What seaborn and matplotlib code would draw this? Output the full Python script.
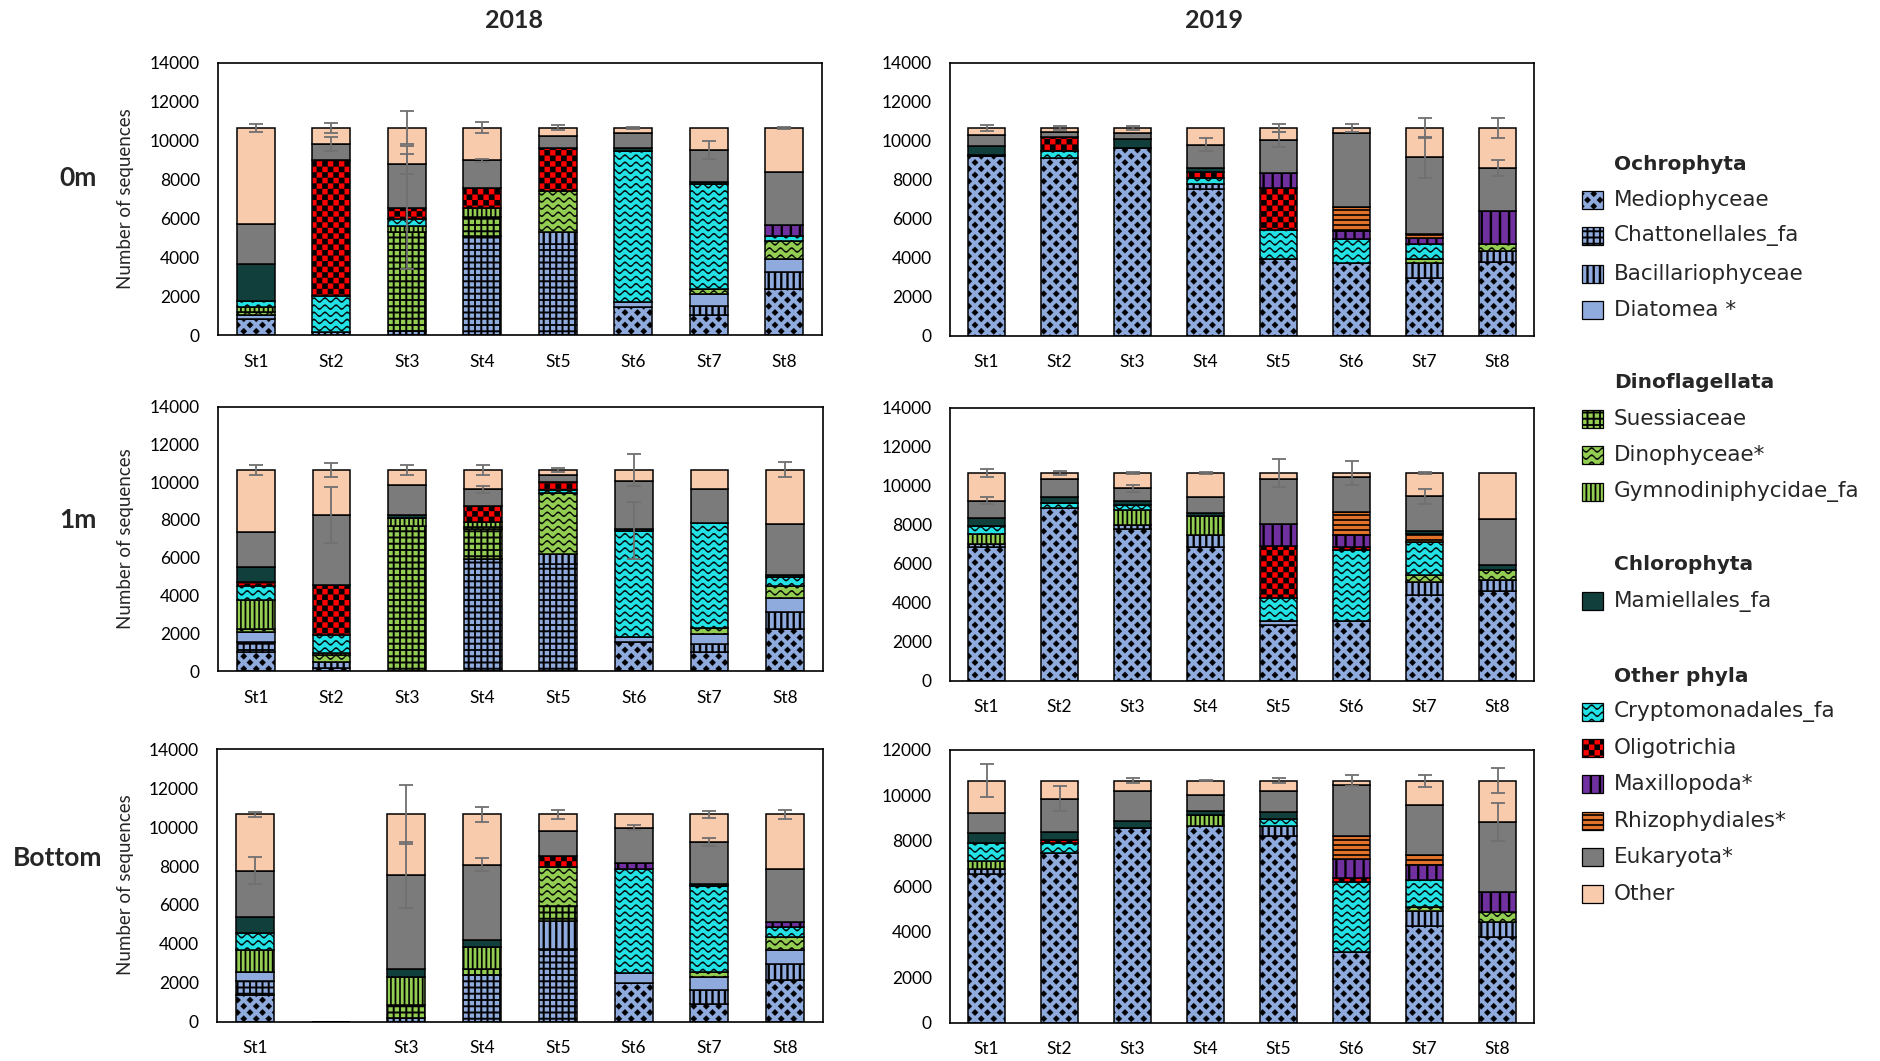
import warnings
import numpy as np
import pandas as pd
import matplotlib
matplotlib.use("Agg")
import matplotlib.pyplot as plt
import matplotlib.hatch as mhatch
from matplotlib.path import Path
from matplotlib.patches import Rectangle
import seaborn as sns

warnings.filterwarnings("ignore", message=".*hatch must consist.*")
warnings.filterwarnings("ignore", category=matplotlib.MatplotlibDeprecationWarning)

# ---------------------------------------------------------------- data
stations = ["St1", "St2", "St3", "St4", "St5", "St6", "St7", "St8"]

# stacking order, bottom to top
taxa = ["Mediophyceae", "Chattonellales_fa", "Bacillariophyceae", "Diatomea *",
        "Suessiaceae", "Dinophyceae*", "Gymnodiniphycidae_fa", "Cryptomonadales_fa",
        "Oligotrichia", "Maxillopoda*", "Rhizophydiales*", "Mamiellales_fa",
        "Eukaryota*", "Other"]

seq_2018_0m = [
    [850, 0, 0, 0, 0, 1450, 1020, 2385],
    [0, 0, 0, 5110, 4685, 0, 0, 0],
    [0, 170, 200, 0, 600, 0, 510, 850],
    [170, 0, 0, 0, 0, 250, 600, 680],
    [0, 0, 5080, 940, 0, 0, 0, 0],
    [170, 0, 0, 0, 2130, 0, 250, 940],
    [250, 0, 340, 510, 0, 0, 0, 0],
    [300, 1870, 340, 0, 0, 7750, 5400, 255],
    [0, 6980, 600, 1020, 2210, 0, 0, 0],
    [0, 0, 0, 0, 0, 0, 0, 560],
    [0, 0, 0, 0, 0, 0, 0, 0],
    [1900, 0, 0, 0, 0, 170, 100, 0],
    [2100, 800, 2220, 1400, 600, 770, 1620, 2730],
    [4910, 830, 1870, 1670, 425, 260, 1150, 2250],
]
seq_2019_0m = [
    [9200, 9120, 9630, 7500, 3920, 3750, 2980, 3800],
    [0, 0, 0, 0, 0, 0, 0, 0],
    [0, 0, 0, 255, 0, 0, 770, 545],
    [0, 0, 0, 0, 0, 0, 0, 0],
    [0, 0, 0, 0, 0, 0, 0, 0],
    [0, 0, 0, 0, 0, 0, 170, 375],
    [0, 0, 0, 0, 0, 0, 0, 0],
    [85, 340, 0, 340, 1500, 1190, 765, 0],
    [0, 720, 0, 305, 2165, 0, 0, 0],
    [0, 0, 0, 0, 765, 425, 340, 1700],
    [0, 0, 0, 0, 0, 1230, 200, 0],
    [425, 0, 475, 205, 0, 0, 0, 0],
    [600, 270, 290, 1190, 1705, 3800, 3920, 2180],
    [340, 200, 255, 855, 595, 255, 1505, 2050],
]
seq_2018_1m = [
    [1020, 175, 0, 0, 0, 1545, 1020, 2250],
    [530, 0, 0, 5940, 5675, 0, 0, 0],
    [0, 315, 0, 0, 525, 0, 385, 880],
    [525, 0, 0, 0, 0, 265, 530, 740],
    [0, 0, 7695, 1580, 0, 0, 0, 0],
    [175, 350, 0, 85, 3250, 0, 350, 630],
    [1490, 90, 385, 265, 0, 0, 0, 0],
    [755, 1000, 0, 0, 120, 5620, 5550, 475],
    [210, 2635, 0, 880, 440, 0, 0, 0],
    [0, 0, 0, 0, 0, 0, 0, 0],
    [0, 0, 0, 0, 0, 0, 0, 0],
    [790, 0, 175, 0, 0, 90, 0, 120],
    [1880, 3690, 1580, 880, 350, 2550, 1830, 2690],
    [3275, 2395, 815, 1020, 290, 580, 985, 2865],
]
seq_2019_1m = [
    [6850, 8845, 7790, 6850, 2845, 3050, 4380, 4585],
    [0, 0, 0, 0, 0, 0, 0, 0],
    [170, 0, 170, 600, 0, 0, 680, 560],
    [0, 0, 0, 0, 205, 0, 0, 0],
    [0, 0, 0, 0, 0, 0, 0, 0],
    [0, 0, 0, 0, 0, 0, 340, 510],
    [510, 0, 770, 990, 0, 0, 0, 0],
    [390, 270, 255, 0, 1190, 3630, 1705, 0],
    [0, 0, 0, 0, 2690, 170, 0, 0],
    [0, 0, 0, 0, 1110, 630, 0, 0],
    [0, 0, 0, 0, 0, 1160, 425, 0],
    [410, 290, 205, 170, 0, 0, 170, 255],
    [900, 935, 680, 800, 2300, 1790, 1755, 2385],
    [1420, 310, 780, 1240, 310, 220, 1195, 2355],
]
seq_2018_bottom = [
    [1365, 0, 0, 0, 0, 1995, 935, 2130],
    [735, 0, 0, 2385, 3750, 0, 0, 0],
    [0, 0, 170, 0, 1450, 0, 680, 850],
    [460, 0, 0, 0, 0, 510, 680, 715],
    [0, 0, 680, 340, 765, 0, 0, 0],
    [0, 0, 0, 0, 1995, 0, 255, 680],
    [1110, 0, 1450, 1110, 0, 0, 0, 0],
    [885, 0, 0, 0, 0, 5335, 4430, 475],
    [0, 0, 0, 0, 560, 0, 0, 0],
    [0, 0, 0, 0, 0, 340, 0, 255],
    [0, 0, 0, 0, 0, 0, 0, 0],
    [820, 0, 425, 340, 0, 0, 85, 0],
    [2385, 0, 4820, 3885, 1280, 1790, 2180, 2725],
    [2890, 0, 3105, 2590, 850, 680, 1405, 2820],
]
seq_2019_bottom = [
    [6535, 7485, 8550, 8650, 8210, 3110, 4275, 3765],
    [0, 0, 0, 0, 0, 0, 0, 0],
    [220, 0, 0, 0, 440, 0, 655, 655],
    [0, 0, 0, 0, 0, 0, 0, 0],
    [0, 0, 0, 0, 0, 0, 0, 0],
    [0, 0, 0, 0, 0, 0, 175, 440],
    [365, 0, 0, 510, 0, 0, 0, 0],
    [800, 440, 0, 0, 335, 3065, 1165, 0],
    [0, 115, 0, 0, 0, 190, 0, 0],
    [0, 0, 0, 0, 0, 830, 670, 875],
    [0, 0, 0, 0, 0, 1020, 440, 0],
    [440, 365, 320, 175, 290, 0, 0, 0],
    [875, 1460, 1340, 700, 935, 2230, 2190, 3110],
    [1415, 785, 440, 615, 440, 205, 1080, 1805],
]

# standard deviations drawn at the cumulative top of a layer
sd_2018_0m = {"Oligotrichia": [0, 0, 3150, 0, 0, 0, 0, 0],
              "Eukaryota*": [0, 340, 510, 85, 0, 0, 460, 0],
              "Other": [220, 270, 850, 280, 130, 30, 0, 40]}
sd_2019_0m = {"Eukaryota*": [0, 0, 0, 320, 400, 0, 1060, 430],
              "Other": [130, 85, 85, 0, 200, 190, 510, 510]}
sd_2018_1m = {"Cryptomonadales_fa": [0, 0, 0, 0, 0, 1500, 0, 0],
              "Eukaryota*": [0, 1500, 0, 180, 0, 0, 0, 0],
              "Other": [260, 350, 260, 260, 100, 850, 0, 400]}
sd_2019_1m = {"Eukaryota*": [170, 0, 190, 0, 0, 0, 370, 0],
              "Other": [190, 100, 60, 60, 700, 600, 60, 0]}
sd_2018_bottom = {"Eukaryota*": [700, 0, 1700, 340, 0, 130, 190, 0],
                  "Other": [110, 0, 1500, 380, 255, 0, 190, 240]}
sd_2019_bottom = {"Eukaryota*": [0, 540, 0, 0, 0, 0, 0, 830],
                  "Other": [730, 0, 100, 30, 100, 250, 270, 550]}

legend_groups = [
    ("Ochrophyta", ["Mediophyceae", "Chattonellales_fa", "Bacillariophyceae", "Diatomea *"]),
    ("Dinoflagellata", ["Suessiaceae", "Dinophyceae*", "Gymnodiniphycidae_fa"]),
    ("Chlorophyta", ["Mamiellales_fa"]),
    ("Other phyla", ["Cryptomonadales_fa", "Oligotrichia", "Maxillopoda*",
                     "Rhizophydiales*", "Eukaryota*", "Other"]),
]

# ---------------------------------------------------------------- fill patterns
# Tile patterns are defined in a unit square (one inch of the rendered image).
TILE = {}


def _rect(x0, y0, x1, y1):
    return np.array([[x0, y0], [x1, y0], [x1, y1], [x0, y1]], float)


def vlines(n, t):
    return [_rect(k / n - t / 2, 0, k / n + t / 2, 1) for k in range(n + 1)]


def hlines(n, t):
    return [_rect(0, k / n - t / 2, 1, k / n + t / 2) for k in range(n + 1)]


def grid(n, t):
    polys = vlines(n, t)
    for k in range(n + 1):
        for j in range(n):
            polys.append(_rect(j / n + t / 2, k / n - t / 2,
                               (j + 1) / n - t / 2, k / n + t / 2))
    return polys


def diamonds(n, r):
    polys = []
    for row in range(-1, 2 * n + 2):
        y = row / (2 * n)
        shift = (row % 2) / (2 * n)
        for col in range(-1, n + 2):
            x = col / n + shift
            polys.append(np.array([[x, y + r], [x - r, y], [x, y - r], [x + r, y]]))
    return polys


def checker(n):
    s = 1 / (2 * n)
    return [_rect(i * s, j * s, (i + 1) * s, (j + 1) * s)
            for i in range(2 * n) for j in range(2 * n) if (i + j) % 2 == 0]


def waves(nx, ny, amp, t):
    x = np.linspace(-0.02, 1.02, 500)
    polys = []
    for k in range(-1, ny + 2):
        y = k / ny + amp * np.sin(2 * np.pi * nx * x)
        upper = np.column_stack([x, y + t / 2])
        lower = np.column_stack([x[::-1], y[::-1] - t / 2])
        polys.append(np.vstack([upper, lower]))
    return polys


TILE["md"] = diamonds(8, 0.033)
TILE["ch"] = grid(16, 0.018)
TILE["su"] = grid(16, 0.018)
TILE["ba"] = vlines(16, 0.022)
TILE["gy"] = vlines(22, 0.016)
TILE["dn"] = waves(9, 14, 0.019, 0.016)
TILE["cr"] = waves(9, 14, 0.019, 0.016)
TILE["lg"] = checker(9)
TILE["mp"] = vlines(11, 0.022)
TILE["rz"] = hlines(20, 0.016)


class TilePattern(mhatch.HatchPatternBase):
    def __init__(self, hatch, density):
        self.polys = TILE.get(hatch, [])
        self.num_vertices = sum(len(p) + 1 for p in self.polys)

    def set_vertices_and_codes(self, vertices, codes):
        i = 0
        for p in self.polys:
            k = len(p)
            vertices[i:i + k] = p
            vertices[i + k] = p[0]
            codes[i] = Path.MOVETO
            codes[i + 1:i + k] = Path.LINETO
            codes[i + k] = Path.CLOSEPOLY
            i += k + 1


mhatch._hatch_types.append(TilePattern)

BLUE = "#8FAADC"
GREEN = "#93CD52"
styles = {
    "Mediophyceae": (BLUE, "md"),
    "Chattonellales_fa": (BLUE, "ch"),
    "Bacillariophyceae": (BLUE, "ba"),
    "Diatomea *": (BLUE, None),
    "Suessiaceae": (GREEN, "su"),
    "Dinophyceae*": (GREEN, "dn"),
    "Gymnodiniphycidae_fa": (GREEN, "gy"),
    "Mamiellales_fa": ("#103F3C", None),
    "Cryptomonadales_fa": ("#22E2E6", "cr"),
    "Oligotrichia": ("#FF0000", "lg"),
    "Maxillopoda*": ("#7030A0", "mp"),
    "Rhizophydiales*": ("#E2712A", "rz"),
    "Eukaryota*": ("#7B7B7B", None),
    "Other": ("#F8CBAD", None),
}

# ---------------------------------------------------------------- style
sns.set_theme(style="white")
plt.rcParams["font.family"] = ["Lato", "DejaVu Sans"]
plt.rcParams["hatch.linewidth"] = 0.1

W, H = 1881, 1061
fig = plt.figure(figsize=(W / 100, H / 100), dpi=100)


def rect_px(left, right, top, bottom):
    return [left / W, 1 - bottom / H, (right - left) / W, (bottom - top) / H]


def draw_panel(ax, rows, sd, ymax):
    bottom = np.zeros(len(stations))
    tops = {}
    for name, vals in zip(taxa, rows):
        vals = np.asarray(vals, float)
        face, hatch = styles[name]
        df = pd.DataFrame({"station": stations, "reads": vals})
        sns.barplot(data=df, x="station", y="reads", order=stations, color=face,
                    saturation=1, width=0.5, errorbar=None, bottom=bottom.copy(),
                    hatch=hatch, edgecolor="black", linewidth=1.1, ax=ax)
        bottom = bottom + vals
        tops[name] = bottom.copy()
    pos = np.arange(len(stations))
    for name, e in sd.items():
        e = np.asarray(e, float)
        m = e > 0
        ax.errorbar(pos[m], tops[name][m], yerr=e[m], fmt="none", ecolor="#707070",
                    elinewidth=1.3, capsize=5, capthick=1.3, zorder=4)
    ax.set_xlim(-0.5, len(stations) - 0.5)
    ax.set_ylim(0, ymax)
    ax.set_yticks(np.arange(0, ymax + 1, 2000))
    ax.set_xticks(pos)
    ax.set_xticklabels([s if t > 0 else "" for s, t in zip(stations, bottom)])
    ax.set_xlabel("")
    ax.set_ylabel("")
    for sp in ax.spines.values():
        sp.set_visible(True)
        sp.set_color("black")
        sp.set_linewidth(1.2)
    ax.tick_params(axis="both", length=0, labelsize=12.5, colors="black")
    ax.tick_params(axis="y", pad=13)
    ax.tick_params(axis="x", pad=13.5)


panels = [
    (seq_2018_0m, sd_2018_0m, 14000, rect_px(218, 822, 62.7, 335.3)),
    (seq_2019_0m, sd_2019_0m, 14000, rect_px(950, 1534, 62.7, 335.7)),
    (seq_2018_1m, sd_2018_1m, 14000, rect_px(218, 823, 406.7, 671.0)),
    (seq_2019_1m, sd_2019_1m, 14000, rect_px(950, 1534, 407.7, 680.7)),
    (seq_2018_bottom, sd_2018_bottom, 14000, rect_px(217, 823, 749.3, 1021.7)),
    (seq_2019_bottom, sd_2019_bottom, 12000, rect_px(950, 1534, 750.0, 1022.7)),
]
for rows, sd, ymax, r in panels:
    ax = fig.add_axes(r)
    draw_panel(ax, rows, sd, ymax)

# column and row headings
fig.text(514 / W, 1 - 20 / H, "2018", ha="center", va="center", fontsize=18, fontweight="bold")
fig.text(1214 / W, 1 - 20 / H, "2019", ha="center", va="center", fontsize=18, fontweight="bold")
for label, x, y in [("0m", 78, 178), ("1m", 78, 520), ("Bottom", 58, 858)]:
    fig.text(x / W, 1 - y / H, label, ha="center", va="center", fontsize=19, fontweight="bold")
for y in [199, 539, 885]:
    fig.text(126 / W, 1 - y / H, "Number of sequences", ha="center", va="center",
             rotation=90, fontsize=13.5)

# grouped legend
header_y = {"Ochrophyta": 164, "Dinoflagellata": 383, "Chlorophyta": 565, "Other phyla": 676}
item_y = {"Mediophyceae": 200, "Chattonellales_fa": 236, "Bacillariophyceae": 274,
          "Diatomea *": 310, "Suessiaceae": 419, "Dinophyceae*": 455,
          "Gymnodiniphycidae_fa": 492, "Mamiellales_fa": 601,
          "Cryptomonadales_fa": 712, "Oligotrichia": 748, "Maxillopoda*": 784,
          "Rhizophydiales*": 821, "Eukaryota*": 857, "Other": 894}
for header, names in legend_groups:
    fig.text(1614 / W, 1 - header_y[header] / H, header, ha="left", va="center",
             fontsize=14.5, fontweight="bold", family="DejaVu Sans")
    for name in names:
        face, hatch = styles[name]
        y = item_y[name]
        fig.add_artist(Rectangle((1582 / W, 1 - (y + 9) / H), 21 / W, 18 / H,
                                 transform=fig.transFigure, facecolor=face, hatch=hatch,
                                 edgecolor="black", linewidth=0.9))
        fig.text(1614 / W, 1 - y / H, name, ha="left", va="center",
                 fontsize=15.5, family="DejaVu Sans")

fig.savefig("out.png", dpi=100)
